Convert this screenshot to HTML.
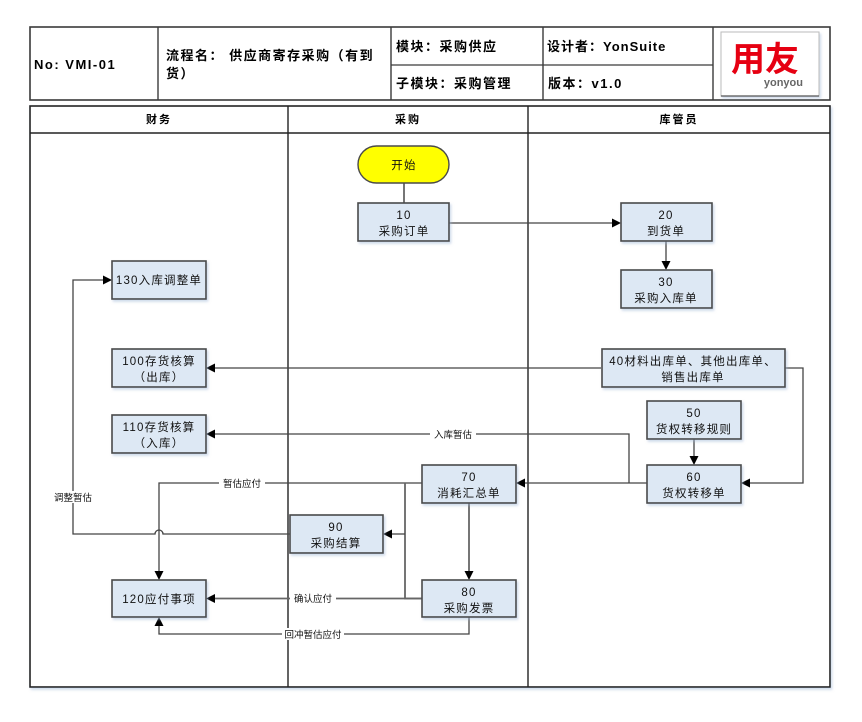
<!DOCTYPE html>
<html><head><meta charset="utf-8"><style>
html,body{margin:0;padding:0;background:#fff;}
svg{display:block;}
text{font-family:"Liberation Sans","WenQuanYi Zen Hei","Noto Sans CJK SC",sans-serif;}
.bx{fill:#dde8f4;stroke:#4a4a4a;stroke-width:1.6;}
.t{font-size:11.5px;fill:#111;text-anchor:middle;letter-spacing:1.2px;}
.h{font-size:13px;fill:#000;font-weight:bold;letter-spacing:1.5px;}
.lh{font-size:11px;fill:#000;font-weight:bold;text-anchor:middle;letter-spacing:2px;}
.c{fill:none;stroke:#444;stroke-width:1.3;}
.cg{fill:none;stroke:#666;stroke-width:1.8;}
.lb{font-size:9.5px;fill:#111;text-anchor:middle;}
</style></head><body>
<svg width="862" height="722" viewBox="0 0 862 722" xmlns="http://www.w3.org/2000/svg">
<defs>
<filter id="sh" x="-10%" y="-10%" width="130%" height="140%"><feDropShadow dx="1.5" dy="2" stdDeviation="1.2" flood-color="#9fb6d6" flood-opacity="0.5"/></filter>
</defs>
<!-- header table -->
<rect x="30" y="27" width="800" height="73" fill="#fff" stroke="#3a3a3a" stroke-width="1.6"/>
<line x1="158" y1="27" x2="158" y2="100" stroke="#3a3a3a" stroke-width="1.4"/>
<line x1="391" y1="27" x2="391" y2="100" stroke="#3a3a3a" stroke-width="1.4"/>
<line x1="543" y1="27" x2="543" y2="100" stroke="#3a3a3a" stroke-width="1.4"/>
<line x1="713" y1="27" x2="713" y2="100" stroke="#3a3a3a" stroke-width="1.4"/>
<line x1="391" y1="65" x2="713" y2="65" stroke="#3a3a3a" stroke-width="1.2"/>
<text class="h" x="34" y="69">No: VMI-01</text>
<text class="h" x="166" y="60">流程名：&#160;供应商寄存采购（有到</text>
<text class="h" x="166" y="78">货）</text>
<text class="h" x="396" y="51">模块：采购供应</text>
<text class="h" x="396" y="88">子模块：采购管理</text>
<text class="h" x="547" y="51" style="letter-spacing:1px">设计者：YonSuite</text>
<text class="h" x="548" y="88">版本：v1.0</text>
<rect x="721" y="32" width="98" height="64" fill="#fff" stroke="#bbb" stroke-width="1" filter="url(#sh)"/>
<line x1="721" y1="96" x2="819" y2="96" stroke="#555" stroke-width="1.2"/>
<text x="765" y="71" font-size="34" font-weight="bold" fill="#e60012" text-anchor="middle" style="font-family:'Noto Sans CJK SC','WenQuanYi Zen Hei',sans-serif">用友</text>
<text x="803" y="86" font-size="11" font-weight="bold" fill="#666" text-anchor="end">yonyou</text>

<!-- swimlanes -->
<rect x="30" y="106" width="800" height="581" fill="#fff" stroke="#222" stroke-width="1.6" filter="url(#sh)"/>
<line x1="30" y1="133" x2="830" y2="133" stroke="#222" stroke-width="1.6"/>
<line x1="288" y1="106" x2="288" y2="687" stroke="#222" stroke-width="1.4"/>
<line x1="528" y1="106" x2="528" y2="687" stroke="#222" stroke-width="1.4"/>
<text class="lh" x="159" y="123">财务</text>
<text class="lh" x="408" y="123">采购</text>
<text class="lh" x="679" y="123">库管员</text>

<!-- connectors -->
<line class="cg" x1="404" y1="183" x2="404" y2="203"/>
<line class="c" x1="449" y1="223" x2="613" y2="223"/>
<polygon points="621,223 612,218.5 612,227.5" fill="#000"/>
<line class="c" x1="666" y1="241" x2="666" y2="262"/>
<polygon points="666,270 661.5,261 670.5,261" fill="#000"/>

<line class="c" x1="601" y1="368" x2="214" y2="368"/>
<polygon points="206,368 215,363.5 215,372.5" fill="#000"/>
<polyline class="c" points="785,368 803,368 803,483 749,483"/>
<polygon points="741,483 750,478.5 750,487.5" fill="#000"/>
<line class="c" x1="694" y1="439" x2="694" y2="457"/>
<polygon points="694,465 689.5,456 698.5,456" fill="#000"/>
<line class="c" x1="647" y1="483" x2="524" y2="483"/>
<polygon points="516,483 525,478.5 525,487.5" fill="#000"/>
<polyline class="c" points="629,483 629,434 214,434"/>
<polygon points="206,434 215,429.5 215,438.5" fill="#000"/>
<rect x="430" y="428" width="46" height="12" fill="#fff"/>
<text class="lb" x="453" y="438">入库暂估</text>

<line class="cg" x1="469" y1="502" x2="469" y2="572"/>
<polygon points="469,580 464.5,571 473.5,571" fill="#000"/>
<polyline class="c" points="422,483 159,483 159,572"/>
<polygon points="159,580 154.5,571 163.5,571" fill="#000"/>
<rect x="219" y="477" width="46" height="12" fill="#fff"/>
<text class="lb" x="242" y="487">暂估应付</text>
<polyline class="cg" points="422,598.5 405,598.5 405,483"/>
<line class="c" x1="405" y1="534" x2="391" y2="534"/>
<polygon points="383,534 392,529.5 392,538.5" fill="#000"/>
<line class="cg" x1="422" y1="598.5" x2="214" y2="598.5"/>
<polygon points="206,598.5 215,594 215,603" fill="#000"/>
<rect x="290" y="592" width="46" height="12" fill="#fff"/>
<text class="lb" x="313" y="602">确认应付</text>
<polyline class="c" points="469,617 469,634 159,634 159,625"/>
<polygon points="159,617 154.5,626 163.5,626" fill="#000"/>
<rect x="282" y="628" width="62" height="12" fill="#fff"/>
<text class="lb" x="313" y="638">回冲暂估应付</text>

<path class="c" d="M290,534 L163,534 A4,4 0 0 0 155,534 L73,534 L73,280 L104,280"/>
<polygon points="112,280 103,275.5 103,284.5" fill="#000"/>
<rect x="52" y="491" width="42" height="12" fill="#fff"/>
<text class="lb" x="73" y="501">调整暂估</text>

<!-- nodes -->
<rect x="358" y="146" width="91" height="37" rx="18.5" fill="#ffff00" stroke="#4a4a4a" stroke-width="1.4"/>
<text class="t" x="404" y="169" font-size="10">开始</text>

<rect class="bx" x="358" y="203" width="91" height="38" filter="url(#sh)"/>
<text class="t" x="404" y="219">10</text><text class="t" x="404" y="235">采购订单</text>

<rect class="bx" x="621" y="203" width="91" height="38" filter="url(#sh)"/>
<text class="t" x="666" y="219">20</text><text class="t" x="666" y="235">到货单</text>

<rect class="bx" x="621" y="270" width="91" height="38" filter="url(#sh)"/>
<text class="t" x="666" y="286">30</text><text class="t" x="666" y="302">采购入库单</text>

<rect class="bx" x="602" y="349" width="183" height="38" filter="url(#sh)"/>
<text class="t" x="693" y="365">40材料出库单、其他出库单、</text><text class="t" x="693" y="381">销售出库单</text>

<rect class="bx" x="647" y="401" width="94" height="38" filter="url(#sh)"/>
<text class="t" x="694" y="417">50</text><text class="t" x="694" y="433">货权转移规则</text>

<rect class="bx" x="647" y="465" width="94" height="38" filter="url(#sh)"/>
<text class="t" x="694" y="481">60</text><text class="t" x="694" y="497">货权转移单</text>

<rect class="bx" x="422" y="465" width="94" height="38" filter="url(#sh)"/>
<text class="t" x="469" y="481">70</text><text class="t" x="469" y="497">消耗汇总单</text>

<rect class="bx" x="422" y="580" width="94" height="37" filter="url(#sh)"/>
<text class="t" x="469" y="596">80</text><text class="t" x="469" y="612">采购发票</text>

<rect class="bx" x="290" y="515" width="93" height="38" filter="url(#sh)"/>
<text class="t" x="336" y="531">90</text><text class="t" x="336" y="547">采购结算</text>

<rect class="bx" x="112" y="261" width="94" height="38" filter="url(#sh)"/>
<text class="t" x="159" y="284">130入库调整单</text>

<rect class="bx" x="112" y="349" width="94" height="38" filter="url(#sh)"/>
<text class="t" x="159" y="365">100存货核算</text><text class="t" x="159" y="381">（出库）</text>

<rect class="bx" x="112" y="415" width="94" height="38" filter="url(#sh)"/>
<text class="t" x="159" y="431">110存货核算</text><text class="t" x="159" y="447">（入库）</text>

<rect class="bx" x="112" y="580" width="94" height="37" filter="url(#sh)"/>
<text class="t" x="159" y="603">120应付事项</text>
</svg>
</body></html>
